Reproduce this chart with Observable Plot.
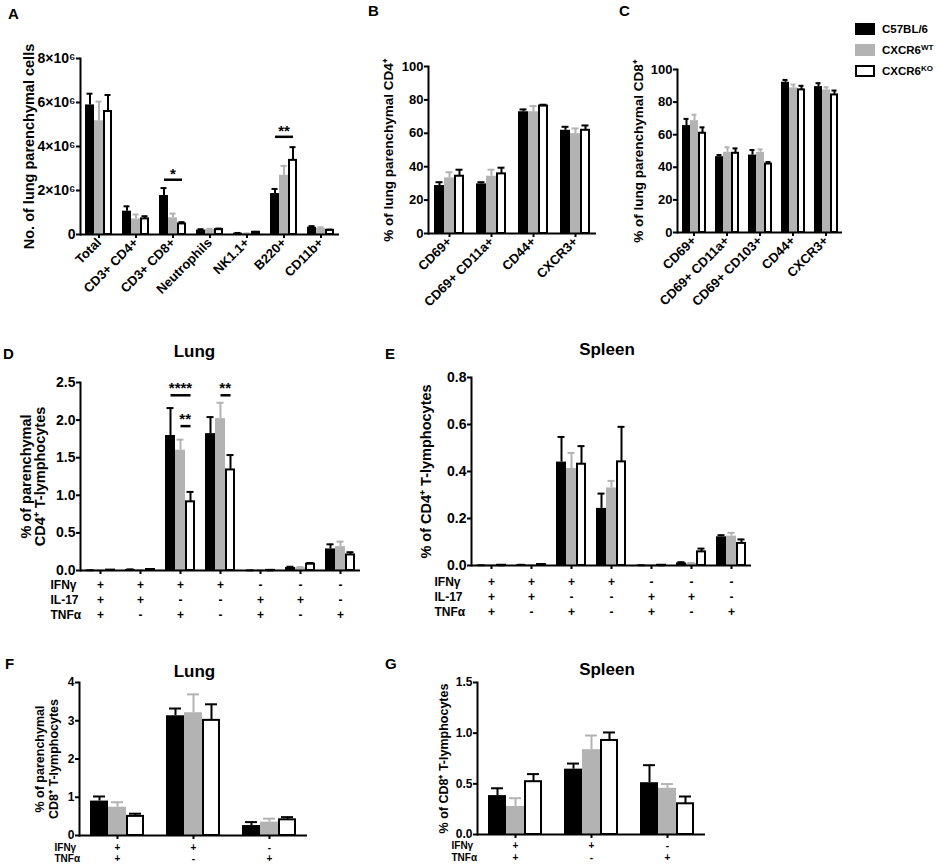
<!DOCTYPE html>
<html><head><meta charset="utf-8">
<script src="https://cdn.jsdelivr.net/npm/d3@7"></script>
<script src="https://cdn.jsdelivr.net/npm/@observablehq/plot@0.6"></script>
<style>
body{margin:0;background:#fff;font-family:"Liberation Sans",Arial,sans-serif;font-weight:bold;color:#000}
#fig{position:relative;width:940px;height:865px;overflow:hidden;background:#fff}
.panel{position:absolute}
.panel svg [aria-label="fx-axis tick label"]{font-size:13px}
.ty14 svg [aria-label="y-axis tick label"]{font-size:14px}
.ty13 svg [aria-label="y-axis tick label"]{font-size:13px}
.ty12 svg [aria-label="y-axis tick label"]{font-size:12px}
.letter{position:absolute;font-size:15px;line-height:1}
.title{position:absolute;font-size:17px;line-height:1;width:120px;text-align:center}
.leg{position:absolute;left:855px;height:22px;display:flex;align-items:center;font-size:11.5px}
.sw{width:20px;height:12px;box-sizing:border-box;margin-right:7px}
.leg sup{font-size:8px;vertical-align:4px;line-height:0}
</style></head>
<body><div id="fig"></div>
<script>
// ---- shared ----
const genotypes = ["C57BL/6", "CXCR6WT", "CXCR6KO"];
const legendBase = ["C57BL/6", "CXCR6", "CXCR6"];
const legendSup = ["", "WT", "KO"];
const barFill = ["#000000", "#b3b3b3", "#ffffff"];
const barStroke = ["none", "none", "#000000"];
const errColor = ["#000000", "#b3b3b3", "#000000"];

// ---- Panel A (values in 10^6 cells) ----
const catsA = ["Total", "CD3+ CD4+", "CD3+ CD8+", "Neutrophils", "NK1.1+", "B220+", "CD11b+"];
const aB6 = [5.89, 1.06, 1.77, 0.20, 0.06, 1.86, 0.33];
const aB6Hi = [6.40, 1.28, 2.11, 0.24, 0.07, 2.07, 0.38];
const aWT = [5.17, 0.71, 0.76, 0.22, 0.04, 2.69, 0.28];
const aWTHi = [6.04, 0.91, 0.95, 0.26, 0.05, 3.12, 0.33];
const aKO = [5.59, 0.71, 0.48, 0.22, 0.10, 3.37, 0.19];
const aKOHi = [6.34, 0.83, 0.56, 0.27, 0.12, 3.97, 0.22];
const ticksA = [0, 2, 4, 6, 8];
const sigA = [{cat: "CD3+ CD8+", from: 0, to: 2, y: 2.49, label: "*"}, {cat: "B220+", from: 0, to: 2, y: 4.44, label: "**"}];

// ---- Panel B ----
const catsB = ["CD69+", "CD69+ CD11a+", "CD44+", "CXCR3+"];
const bB6 = [28.7, 29.7, 72.9, 61.8];
const bB6Hi = [30.7, 30.7, 74.3, 63.9];
const bWT = [33.3, 34.3, 72.9, 59.8];
const bWTHi = [36.7, 38.2, 76.3, 62.9];
const bKO = [34.3, 35.7, 76.3, 61.8];
const bKOHi = [38.2, 39.4, 77.1, 64.7];
const ticksPct = [0, 20, 40, 60, 80, 100];

// ---- Panel C ----
const catsC = ["CD69+", "CD69+ CD11a+", "CD69+ CD103+", "CD44+", "CXCR3+"];
const cB6 = [65.6, 46.5, 47.5, 92.2, 89.5];
const cB6Hi = [69.7, 47.5, 50.6, 93.6, 91.6];
const cWT = [68.6, 49.2, 49.2, 88.7, 87.5];
const cWTHi = [72.3, 52.3, 51.0, 90.8, 89.1];
const cKO = [60.9, 48.6, 42.0, 87.5, 84.4];
const cKOHi = [64.5, 51.6, 43.2, 90.0, 87.1];

// ---- Panels D/E (CD4 cytokines) ----
const ifnDE = ["+", "+", "+", "+", "-", "-", "-"];
const il17DE = ["+", "+", "-", "-", "+", "+", "-"];
const tnfDE = ["+", "-", "+", "-", "+", "-", "+"];
const catsDE = ifnDE.map((v, i) => v + il17DE[i] + tnfDE[i]);
const dB6 = [0.003, 0.013, 1.795, 1.82, 0.002, 0.04, 0.287];
const dB6Hi = [0.003, 0.015, 2.16, 2.04, 0.002, 0.05, 0.348];
const dWT = [0.002, 0.005, 1.60, 2.02, 0.004, 0.035, 0.318];
const dWTHi = [0.002, 0.007, 1.74, 2.23, 0.004, 0.045, 0.384];
const dKO = [0.005, 0.013, 0.913, 1.337, 0.002, 0.084, 0.207];
const dKOHi = [0.006, 0.016, 1.045, 1.535, 0.002, 0.10, 0.243];
const ticksD = [0, 0.5, 1.0, 1.5, 2.0, 2.5];
const sigD = [
  {cat: "+-+", from: 0, to: 2, y: 2.33, label: "****"},
  {cat: "+-+", from: 1, to: 2, y: 1.92, label: "**"},
  {cat: "+--", from: 1, to: 2, y: 2.33, label: "**"}
];
const eB6 = [0.001, 0.003, 0.44, 0.243, 0.001, 0.011, 0.122];
const eB6Hi = [0.001, 0.003, 0.547, 0.306, 0.001, 0.014, 0.129];
const eWT = [0.001, 0.002, 0.413, 0.33, 0.001, 0.0085, 0.125];
const eWTHi = [0.001, 0.002, 0.479, 0.36, 0.001, 0.011, 0.139];
const eKO = [0.001, 0.004, 0.431, 0.441, 0.001, 0.058, 0.094];
const eKOHi = [0.001, 0.004, 0.508, 0.59, 0.001, 0.072, 0.111];
const ticksE = [0, 0.2, 0.4, 0.6, 0.8];

// ---- Panels F/G (CD8 cytokines) ----
const ifnFG = ["+", "+", "-"];
const tnfFG = ["+", "-", "+"];
const catsFG = ifnFG.map((v, i) => v + tnfFG[i]);
const fB6 = [0.90, 3.13, 0.26];
const fB6Hi = [1.02, 3.32, 0.35];
const fWT = [0.74, 3.21, 0.35];
const fWTHi = [0.87, 3.69, 0.44];
const fKO = [0.50, 3.01, 0.41];
const fKOHi = [0.57, 3.43, 0.48];
const ticksF = [0, 1, 2, 3, 4];
const gB6 = [0.384, 0.645, 0.511];
const gB6Hi = [0.456, 0.70, 0.684];
const gWT = [0.277, 0.837, 0.456];
const gWTHi = [0.358, 0.977, 0.498];
const gKO = [0.521, 0.928, 0.303];
const gKOHi = [0.596, 1.007, 0.375];
const ticksG = [0, 0.5, 1.0, 1.5];

const fig = document.getElementById("fig");

function makePanel(p) {
  const rows = [];
  p.cats.forEach((c, i) => genotypes.forEach((g, k) => rows.push({cat: c, g, k, v: p.mean[k][i], hi: p.hi[k][i]})));
  const marks = [];
  genotypes.forEach((g, k) => {
    const sub = rows.filter(r => r.k === k);
    marks.push(Plot.barY(sub, {fx: "cat", x: "g", y: "v", fill: barFill[k], stroke: barStroke[k], strokeWidth: 2,
      insetLeft: k === 2 ? 1 : 0, insetRight: k === 2 ? 1 : 0}));
    marks.push(Plot.ruleX(sub, {fx: "cat", x: "g", y1: "v", y2: "hi", stroke: errColor[k], strokeWidth: 2}));
    marks.push(Plot.tickY(sub, {fx: "cat", x: "g", y: "hi", stroke: errColor[k], strokeWidth: 2, inset: p.capInset}));
  });
  if (p.sig) {
    marks.push(Plot.link(p.sig, {fx: "cat", x1: d => genotypes[d.from], x2: d => genotypes[d.to], y1: "y", y2: "y", strokeWidth: 2.5}));
    marks.push(Plot.text(p.sig.filter(d => d.from === 0), {fx: "cat", x: () => genotypes[1], y: "y", text: "label", lineAnchor: "bottom", dy: p.starDy, fontSize: 15}));
    marks.push(Plot.text(p.sig.filter(d => d.from === 1), {fx: "cat", x: () => genotypes[2], y: "y", text: "label", lineAnchor: "bottom", dy: p.starDy, dx: -p.halfBar, fontSize: 15}));
  }
  if (p.factors) p.factors.forEach((f, r) => {
    const dy = p.rowDy0 + r * p.rowStep;
    marks.push(Plot.text(p.cats.map((c, i) => ({cat: c, s: f.vals[i]})), {fx: "cat", text: "s", frameAnchor: "bottom", dy, lineAnchor: "middle", fontSize: p.rowFont}));
    marks.push(Plot.text([f.name], {text: d => d, frameAnchor: "bottom-left", facetAnchor: "left", textAnchor: "start", dx: p.rowDx, dy, lineAnchor: "middle", fontSize: p.rowFont}));
  });
  marks.push(Plot.text([p.ylabel], {text: d => d, frameAnchor: "left", facetAnchor: "left", rotate: -90, textAnchor: "middle", lineAnchor: "middle", dx: p.ylabelDx, fontSize: p.ylabelFont, lineHeight: p.ylabelLH || 1}));
  marks.push(Plot.axisY({ticks: p.yTicks, tickFormat: p.yFmt, tickSize: 4, tickPadding: 1, strokeWidth: 2, fontSize: p.tickFont, label: null}));
  marks.push(Plot.axisFx({anchor: "bottom", tickSize: 4, strokeWidth: 2, label: null, fontSize: 13, tickRotate: p.rot || 0, tickPadding: 2, tickFormat: p.xFmt}));
  marks.push(Plot.frame({anchor: "left", facetAnchor: "left", strokeWidth: 2}));
  marks.push(Plot.ruleY([0], {strokeWidth: 2}));
  const chart = Plot.plot({
    width: p.w, height: p.h,
    marginLeft: p.ml, marginRight: p.mr, marginTop: p.mt, marginBottom: p.mb,
    fx: {domain: p.cats, padding: 0},
    x: {domain: genotypes, paddingInner: 0, paddingOuter: p.pad, axis: null},
    y: {domain: [0, p.ymax]},
    style: {fontFamily: '"Liberation Sans", Arial, sans-serif', fontWeight: "bold", fontSize: p.tickFont + "px", background: "transparent", color: "#000", overflow: "visible"},
    marks
  });
  const div = document.createElement("div");
  div.className = "panel ty" + p.tickFont;
  div.style.left = p.left + "px"; div.style.top = p.top + "px";
  div.style.width = p.w + "px"; div.style.height = p.h + "px";
  div.appendChild(chart);
  fig.appendChild(div);
}

const none = () => "";
const f1 = d3.format(".1f");

makePanel({left: 0, top: 0, w: 350, h: 305, ml: 77, mr: 8, mt: 58, mb: 71,
  cats: catsA, mean: [aB6, aWT, aKO], hi: [aB6Hi, aWTHi, aKOHi], ymax: 8, yTicks: ticksA,
  yFmt: d => d === 0 ? "0" : d + "×10⁶", pad: 0.4, capInset: 1.5, sig: sigA, starDy: -1, halfBar: 5,
  ylabel: "No. of lung parenchymal cells", ylabelDx: -51, ylabelFont: 14.5, tickFont: 14, rot: -45});

makePanel({left: 340, top: 0, w: 265, h: 305, ml: 87, mr: 8, mt: 66, mb: 72,
  cats: catsB, mean: [bB6, bWT, bKO], hi: [bB6Hi, bWTHi, bKOHi], ymax: 100, yTicks: ticksPct,
  yFmt: d => d, pad: 0.56, capInset: 1.5,
  ylabel: "% of lung parenchymal CD4⁺", ylabelDx: -40, ylabelFont: 13.5, tickFont: 13, rot: -45});

makePanel({left: 605, top: 0, w: 245, h: 305, ml: 72, mr: 8, mt: 69, mb: 73,
  cats: catsC, mean: [cB6, cWT, cKO], hi: [cB6Hi, cWTHi, cKOHi], ymax: 100, yTicks: ticksPct,
  yFmt: d => d, pad: 0.45, capInset: 1.5,
  ylabel: "% of lung parenchymal CD8⁺", ylabelDx: -39, ylabelFont: 13.5, tickFont: 13, rot: -45});

const factorsDE = [{name: "IFNγ", vals: ifnDE}, {name: "IL-17", vals: il17DE}, {name: "TNFα", vals: tnfDE}];
const factorsFG = [{name: "IFNγ", vals: ifnFG}, {name: "TNFα", vals: tnfFG}];

makePanel({left: 0, top: 340, w: 380, h: 290, ml: 77, mr: 18, mt: 42, mb: 60,
  cats: catsDE, mean: [dB6, dWT, dKO], hi: [dB6Hi, dWTHi, dKOHi], ymax: 2.5, yTicks: ticksD,
  yFmt: f1, pad: 0.4, capInset: 1.5, sig: sigD, starDy: -2, halfBar: 5.3, xFmt: none,
  factors: factorsDE, rowDy0: 15, rowStep: 15, rowFont: 12, rowDx: -30,
  ylabel: "% of parenchymal\nCD4⁺ T-lymphocytes", ylabelDx: -47, ylabelFont: 14.5, ylabelLH: 1.0, tickFont: 14});

makePanel({left: 400, top: 340, w: 360, h: 290, ml: 69, mr: 8, mt: 37, mb: 65,
  cats: catsDE, mean: [eB6, eWT, eKO], hi: [eB6Hi, eWTHi, eKOHi], ymax: 0.8, yTicks: ticksE,
  yFmt: f1, pad: 0.42, capInset: 1.5, xFmt: none,
  factors: factorsDE, rowDy0: 17, rowStep: 15, rowFont: 12, rowDx: -37,
  ylabel: "% of CD4⁺ T-lymphocytes", ylabelDx: -45, ylabelFont: 14.5, tickFont: 14});

makePanel({left: 0, top: 650, w: 320, h: 215, ml: 78, mr: 12, mt: 32, mb: 30,
  cats: catsFG, mean: [fB6, fWT, fKO], hi: [fB6Hi, fWTHi, fKOHi], ymax: 4, yTicks: ticksF,
  yFmt: d => d, pad: 0.57, capInset: 3, xFmt: none,
  factors: factorsFG, rowDy0: 12, rowStep: 11.5, rowFont: 10, rowDx: -25,
  ylabel: "% of parenchymal\nCD8⁺ T-lymphocytes", ylabelDx: -33, ylabelFont: 12.5, ylabelLH: 1.1, tickFont: 12});

makePanel({left: 400, top: 650, w: 320, h: 215, ml: 76, mr: 15, mt: 32, mb: 31,
  cats: catsFG, mean: [gB6, gWT, gKO], hi: [gB6Hi, gWTHi, gKOHi], ymax: 1.5, yTicks: ticksG,
  yFmt: f1, pad: 0.54, capInset: 3, xFmt: none,
  factors: factorsFG, rowDy0: 11, rowStep: 12.5, rowFont: 10, rowDx: -26,
  ylabel: "% of CD8⁺ T-lymphocytes", ylabelDx: -34, ylabelFont: 12.5, tickFont: 12});

// ---- panel letters & titles ----
const letters = [["A", 8, 6], ["B", 368, 3], ["C", 619, 3], ["D", 3, 346], ["E", 385, 346], ["F", 5, 656], ["G", 385, 656]];
letters.forEach(([t, x, y]) => {
  const d = document.createElement("div"); d.className = "letter"; d.textContent = t;
  d.style.left = x + "px"; d.style.top = y + "px"; fig.appendChild(d);
});
const titles = [["Lung", 194.5, 343], ["Spleen", 607, 341], ["Lung", 194.5, 663], ["Spleen", 607, 661]];
titles.forEach(([t, cx, y]) => {
  const d = document.createElement("div"); d.className = "title"; d.textContent = t;
  d.style.left = (cx - 60) + "px"; d.style.top = y + "px"; fig.appendChild(d);
});

// ---- legend ----
const legendY = [29, 50, 71];
genotypes.forEach((g, k) => {
  const row = document.createElement("div"); row.className = "leg";
  row.style.top = (legendY[k] - 11) + "px";
  const sw = document.createElement("div"); sw.className = "sw";
  sw.style.background = barFill[k];
  if (barStroke[k] !== "none") sw.style.border = "2px solid " + barStroke[k];
  row.appendChild(sw);
  const tx = document.createElement("span");
  tx.textContent = legendBase[k];
  if (legendSup[k]) { const s = document.createElement("sup"); s.textContent = legendSup[k]; tx.appendChild(s); }
  row.appendChild(tx);
  fig.appendChild(row);
});
</script>
</body></html>
